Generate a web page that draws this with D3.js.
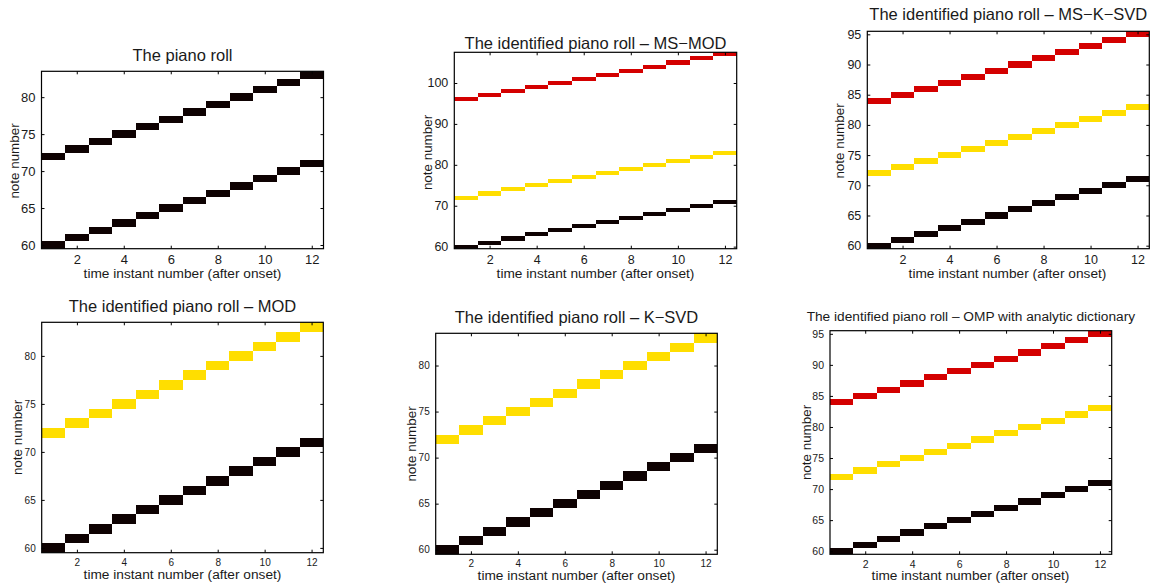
<!DOCTYPE html>
<html>
<head>
<meta charset="utf-8">
<script src="https://cdn.jsdelivr.net/npm/d3@7"></script>
<style>
  html, body { margin: 0; padding: 0; background: #fff; }
  svg { display: block; }
  text { font-family: "Liberation Sans", Arial, Helvetica, sans-serif; fill: #1a1a1a; }
</style>
</head>
<body>
<svg id="chart" width="1154" height="585"></svg>
<script>
// Time instants (after onset) on the horizontal axis
const timeInstants = [1, 2, 3, 4, 5, 6, 7, 8, 9, 10, 11, 12];

// Note numbers active at each time instant
const lowNotes   = [60, 61, 62, 63, 64, 65, 66, 67, 68, 69, 70, 71];
const midNotes   = [72, 73, 74, 75, 76, 77, 78, 79, 80, 81, 82, 83];
const highNotesMSMOD = [96, 97, 98, 99, 100, 101, 102, 103, 104, 105, 106, 107];
const highNotes  = [84, 85, 86, 87, 88, 89, 90, 91, 92, 93, 94, 95];

// Axis ticks
const xTicks = [2, 4, 6, 8, 10, 12];
const yTicksShort = [60, 65, 70, 75, 80];
const yTicksMSMOD = [60, 70, 80, 90, 100];
const yTicksTall  = [60, 65, 70, 75, 80, 85, 90, 95];

// Panel titles
const titles = [
  "The piano roll",
  "The identified piano roll \u2013 MS\u2212MOD",
  "The identified piano roll \u2013 MS\u2212K\u2212SVD",
  "The identified piano roll \u2013 MOD",
  "The identified piano roll \u2013 K\u2212SVD",
  "The identified piano roll \u2013 OMP with analytic dictionary"
];
const xLabel = "time instant number (after onset)";
const yLabel = "note number";

const RED = "#d40000", YELLOW = "#ffde00", BLACK = "#0e0202";

const panels = [
  { title: titles[0], box: [41.5, 71.3, 323.5, 248.7], yDomain: [59.5, 83.5], yTicks: yTicksShort,
    series: [{ notes: midNotes, color: BLACK }, { notes: lowNotes, color: BLACK }],
    titleY: 54.5, titleSize: 16.5, tickSize: 13,
    xLabelPos: [182.5, 273.5], yLabelPos: [14, 161] },
  { title: titles[1], box: [454.3, 52.3, 736.7, 248.7], yDomain: [59.5, 107.5], yTicks: yTicksMSMOD,
    series: [{ notes: highNotesMSMOD, color: RED }, { notes: midNotes, color: YELLOW }, { notes: lowNotes, color: BLACK }],
    titleY: 42.5, titleSize: 16.5, tickSize: 12.5,
    xLabelPos: [595.5, 273.5], yLabelPos: [427.5, 152.5] },
  { title: titles[2], box: [867.3, 31.3, 1149.3, 248.7], yDomain: [59.5, 95.5], yTicks: yTicksTall,
    series: [{ notes: highNotes, color: RED }, { notes: midNotes, color: YELLOW }, { notes: lowNotes, color: BLACK }],
    titleY: 14, titleSize: 16.5, tickSize: 12.5,
    xLabelPos: [1007.5, 273.5], yLabelPos: [839.5, 141] },
  { title: titles[3], box: [41.7, 322.3, 323.3, 552.7], yDomain: [59.5, 83.5], yTicks: yTicksShort,
    series: [{ notes: midNotes, color: YELLOW }, { notes: lowNotes, color: BLACK }],
    titleY: 305.5, titleSize: 16.5, tickSize: 10,
    xLabelPos: [182.5, 574.5], yLabelPos: [17.5, 437.5] },
  { title: titles[4], box: [435.7, 333.3, 717.3, 554.3], yDomain: [59.5, 83.5], yTicks: yTicksShort,
    series: [{ notes: midNotes, color: YELLOW }, { notes: lowNotes, color: BLACK }],
    titleY: 316.5, titleSize: 16.5, tickSize: 10,
    xLabelPos: [576.5, 575], yLabelPos: [411.5, 444] },
  { title: titles[5], box: [830, 330.7, 1111.7, 554.3], yDomain: [59.5, 95.5], yTicks: yTicksTall,
    series: [{ notes: highNotes, color: RED }, { notes: midNotes, color: YELLOW }, { notes: lowNotes, color: BLACK }],
    titleY: 316, titleSize: 13.7, tickSize: 10.5,
    xLabelPos: [970.5, 575], yLabelPos: [806, 442.5] }
];

const svg = d3.select("#chart");
const TICK = 3;

panels.forEach((p, i) => {
  const [x0, y0, x1, y1] = p.box;
  const x = d3.scaleLinear().domain([0.5, 12.5]).range([x0, x1]);
  const y = d3.scaleLinear().domain(p.yDomain).range([y1, y0]);

  const g = svg.append("g");
  const clipId = "clip" + i;
  g.append("clipPath").attr("id", clipId)
    .append("rect").attr("x", x0).attr("y", y0).attr("width", x1 - x0).attr("height", y1 - y0);

  // Note cells: one cell per (time instant, note)
  const cells = g.append("g").attr("clip-path", `url(#${clipId})`);
  p.series.forEach(s => {
    cells.selectAll(null)
      .data(timeInstants.map((t, k) => ({ t, n: s.notes[k] })))
      .join("rect")
      .attr("x", d => x(d.t - 0.5))
      .attr("y", d => y(d.n + 0.5))
      .attr("width", d => x(d.t + 0.5) - x(d.t - 0.5))
      .attr("height", d => y(d.n - 0.5) - y(d.n + 0.5))
      .attr("fill", s.color)
      .attr("shape-rendering", "crispEdges");
  });

  // Axes with inward ticks on all four sides
  const tickFont = p.tickSize + "px";
  const bottom = g.append("g").attr("transform", `translate(0,${y1})`)
    .call(d3.axisBottom(x).tickValues(xTicks).tickSizeInner(-TICK).tickSizeOuter(0).tickPadding(TICK + 3));
  const top = g.append("g").attr("transform", `translate(0,${y0})`)
    .call(d3.axisTop(x).tickValues(xTicks).tickSizeInner(-TICK).tickSizeOuter(0).tickFormat(""));
  const left = g.append("g").attr("transform", `translate(${x0},0)`)
    .call(d3.axisLeft(y).tickValues(p.yTicks).tickSizeInner(-TICK).tickSizeOuter(0).tickPadding(TICK + 3));
  const right = g.append("g").attr("transform", `translate(${x1},0)`)
    .call(d3.axisRight(y).tickValues(p.yTicks).tickSizeInner(-TICK).tickSizeOuter(0).tickFormat(""));

  [bottom, top, left, right].forEach(a => {
    a.select(".domain").remove();
    a.selectAll(".tick line").attr("stroke", "#000").attr("stroke-width", 1);
    a.selectAll("text").attr("font-size", tickFont)
      .attr("font-family", '"Liberation Sans", Arial, sans-serif').attr("fill", "#1a1a1a");
  });

  // Plot frame
  g.append("rect")
    .attr("x", x0).attr("y", y0).attr("width", x1 - x0).attr("height", y1 - y0)
    .attr("fill", "none").attr("stroke", "#000").attr("stroke-width", 1.2);

  // Title and axis labels
  g.append("text")
    .attr("x", (x0 + x1) / 2).attr("y", p.titleY)
    .attr("text-anchor", "middle").attr("dominant-baseline", "central")
    .attr("font-size", p.titleSize + "px")
    .text(p.title);

  g.append("text")
    .attr("x", p.xLabelPos[0]).attr("y", p.xLabelPos[1])
    .attr("text-anchor", "middle").attr("dominant-baseline", "central")
    .attr("font-size", "13.7px")
    .text(xLabel);

  g.append("text")
    .attr("transform", `translate(${p.yLabelPos[0]},${p.yLabelPos[1]}) rotate(-90)`)
    .attr("text-anchor", "middle").attr("dominant-baseline", "central")
    .attr("font-size", "13.4px")
    .text(yLabel);
});
</script>
</body>
</html>
